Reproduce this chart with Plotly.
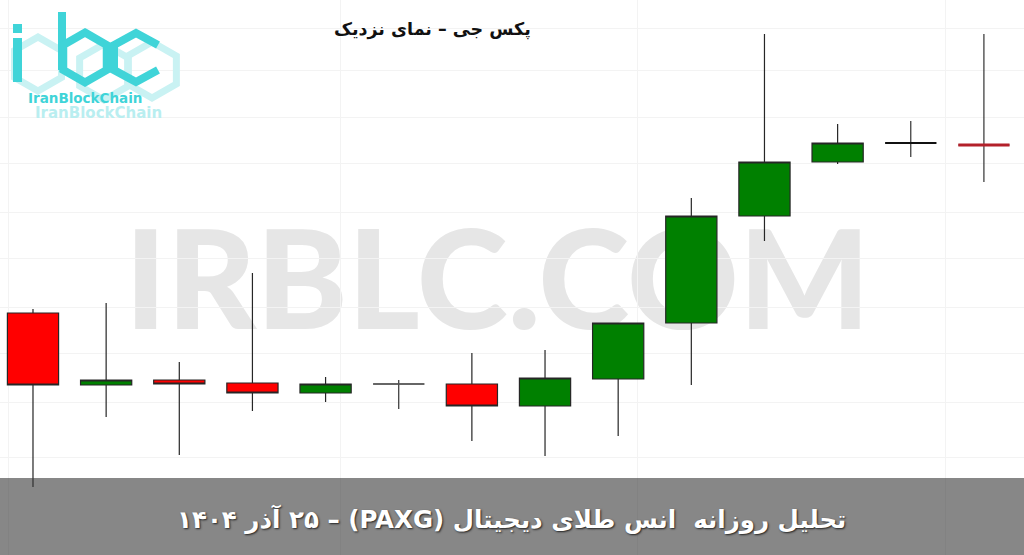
import plotly.graph_objects as go

W, H = 1024, 555

# ---- data (daily candles) ----
days = [0, 1, 2, 3, 4, 5, 6, 7, 8, 9, 10, 11, 12, 13]
opens = [4187, 4115, 4120, 4117, 4107, 4116, 4116, 4094, 4121, 4177, 4284, 4338, 4357, 4355]
highs = [4191, 4197, 4138, 4227, 4123, 4120, 4147, 4150, 4177, 4302, 4466, 4376, 4379, 4466]
lows = [4013, 4083, 4045, 4089, 4098, 4091, 4059, 4044, 4064, 4115, 4259, 4336, 4343, 4318]
closes = [4115, 4120, 4116, 4107, 4116, 4116, 4094, 4122, 4177, 4284, 4338, 4357, 4357, 4355]

title_text = "پکس جی – نمای نزدیک"
band_text = "تحلیل روزانه  انس طلای دیجیتال (PAXG) – ۲۵ آذر ۱۴۰۴"
watermark = "IRBLC.COM"
logo_text = "IranBlockChain"

# doji bar styles (colour, width)
doji_style = {5: ("#555555", 1.3), 12: ("#111111", 2.2), 13: ("#b3202a", 3.2)}

fig = go.Figure()

body_idx = [i for i in range(len(days)) if opens[i] != closes[i]]
fig.add_trace(go.Candlestick(
    x=[days[i] for i in body_idx],
    open=[opens[i] for i in body_idx],
    high=[highs[i] for i in body_idx],
    low=[lows[i] for i in body_idx],
    close=[closes[i] for i in body_idx],
    increasing=dict(fillcolor="#008000", line=dict(color="#262626", width=1.2)),
    decreasing=dict(fillcolor="#ff0000", line=dict(color="#262626", width=1.2)),
    hoverinfo="skip", showlegend=False,
))

for i in range(len(days)):
    if opens[i] != closes[i]:
        continue
    col, wd = doji_style[i]
    # wick
    fig.add_trace(go.Candlestick(
        x=[days[i]], open=[opens[i]], high=[highs[i]], low=[lows[i]], close=[closes[i]],
        increasing=dict(fillcolor="#333333", line=dict(color="#333333", width=1.2)),
        decreasing=dict(fillcolor="#333333", line=dict(color="#333333", width=1.2)),
        hoverinfo="skip", showlegend=False,
    ))
    # flat body
    fig.add_trace(go.Candlestick(
        x=[days[i]], open=[opens[i]], high=[closes[i]], low=[closes[i]], close=[closes[i]],
        increasing=dict(fillcolor=col, line=dict(color=col, width=wd)),
        decreasing=dict(fillcolor=col, line=dict(color=col, width=wd)),
        hoverinfo="skip", showlegend=False,
    ))


def px(x, y):
    return x / W, 1 - y / H


def path(points, closed=False):
    s = ""
    for k, (x, y) in enumerate(points):
        a, b = px(x, y)
        s += ("M" if k == 0 else "L") + f"{a:.5f},{b:.5f} "
    if closed:
        s += "Z"
    return s


def hexagon(cx, cy, r):
    h = r * 0.5
    w = r * 0.87
    return [(cx, cy - r), (cx + w, cy - h), (cx + w, cy + h), (cx, cy + r), (cx - w, cy + h), (cx - w, cy - h)]


shapes = []
# watermark (drawn under the candles)
x0, y1 = px(133, 224)
x1, y0 = px(862, 323)
shapes.append(dict(type="rect", xref="paper", yref="paper", x0=x0, x1=x1, y0=y0, y1=y1,
                   line=dict(width=0), fillcolor="rgba(0,0,0,0)", layer="below",
                   label=dict(text=watermark, textposition="middle center",
                              font=dict(family="Lato", size=138, color="#e6e6e6", weight=900))))

# logo hexagons (faint)
for cx, cy, r in [(38, 64, 27), (104, 72, 28), (152, 70, 28)]:
    shapes.append(dict(type="path", xref="paper", yref="paper", path=path(hexagon(cx, cy, r), True),
                       line=dict(color="#c9f2f3", width=7), layer="above"))
logo_c = "#3fd4d8"
# i
shapes.append(dict(type="path", xref="paper", yref="paper", path=path([(17.5, 38), (17.5, 82)]),
                   line=dict(color=logo_c, width=9), layer="above"))
shapes.append(dict(type="path", xref="paper", yref="paper", path=path([(17.5, 24), (17.5, 33)]),
                   line=dict(color=logo_c, width=9), layer="above"))
# b
shapes.append(dict(type="path", xref="paper", yref="paper", path=path([(62, 12), (62, 70)]),
                   line=dict(color=logo_c, width=8), layer="above"))
shapes.append(dict(type="path", xref="paper", yref="paper", path=path(hexagon(85, 57.5, 25), True),
                   line=dict(color=logo_c, width=8), layer="above"))
# c
shapes.append(dict(type="path", xref="paper", yref="paper",
                   path=path([(158, 45), (136, 33), (114, 45), (114, 70), (136, 82), (158, 70)]),
                   line=dict(color=logo_c, width=8), layer="above"))

# bottom band
bx0, by1 = px(0, 478)
shapes.append(dict(type="rect", xref="paper", yref="paper", x0=0, x1=1, y0=0, y1=by1,
                   line=dict(width=0), fillcolor="rgba(55,55,55,0.6)", layer="above"))

annotations = []
ax, ay = px(432, 29)
annotations.append(dict(xref="paper", yref="paper", x=ax, y=ay, xanchor="center", yanchor="middle",
                        text="\u202b" + title_text + "\u202c", showarrow=False,
                        font=dict(family="DejaVu Sans", size=17.5, color="#111111", weight="bold")))
ax, ay = px(85, 98)
annotations.append(dict(xref="paper", yref="paper", x=ax, y=ay, xanchor="center", yanchor="middle",
                        text=logo_text, showarrow=False,
                        font=dict(family="DejaVu Sans", size=13.5, color=logo_c, weight="bold")))
ax, ay = px(98, 113)
annotations.append(dict(xref="paper", yref="paper", x=ax, y=ay, xanchor="center", yanchor="middle",
                        text=logo_text, showarrow=False,
                        font=dict(family="DejaVu Sans", size=15, color="#b9eef0", weight="bold")))
ax, ay = px(511, 519)
annotations.append(dict(xref="paper", yref="paper", x=ax, y=ay, xanchor="center", yanchor="middle",
                        text="\u202b" + band_text + "\u202c", showarrow=False,
                        font=dict(family="DejaVu Sans", size=24.5, color="#ffffff", weight="bold",
                                  shadow="1px 1px 2px #222222")))

# faint chart grid (style only)
x_grid = [-0.34, 4.2, 8.27, 12.47]
y_grid = [4472, 4430, 4383, 4337, 4288, 4242, 4193, 4147, 4098, 4043]

fig.update_layout(
    width=W, height=H,
    margin=dict(l=0, r=0, t=0, b=0),
    paper_bgcolor="#ffffff", plot_bgcolor="rgba(0,0,0,0)",
    boxgap=0.3, boxgroupgap=0,
    showlegend=False,
    shapes=shapes, annotations=annotations,
    xaxis=dict(range=[-0.451, 13.548], rangeslider=dict(visible=False), showticklabels=False,
               ticks="", tickvals=x_grid, showgrid=True, gridcolor="#f3f3f3", gridwidth=1,
               zeroline=False, showline=False, fixedrange=True),
    yaxis=dict(range=[3945, 4500], showticklabels=False, ticks="", tickvals=y_grid,
               showgrid=True, gridcolor="#f3f3f3", gridwidth=1, zeroline=False, showline=False,
               fixedrange=True),
)

fig.write_html("out.html", config={"displayModeBar": False},
               post_script="document.body.style.margin='0';document.body.style.overflow='hidden';")
